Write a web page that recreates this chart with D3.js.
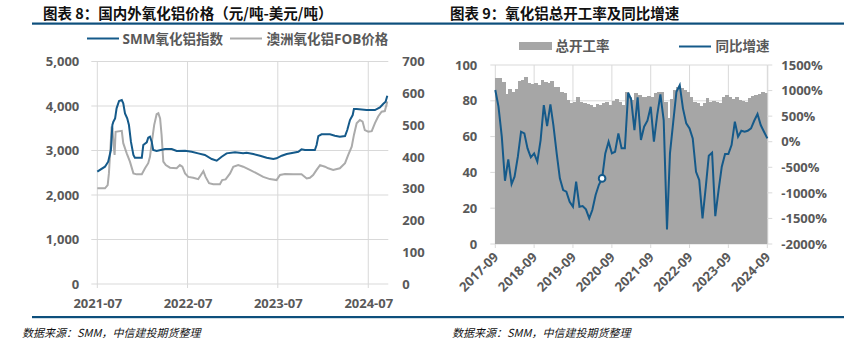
<!DOCTYPE html>
<html>
<head>
<meta charset="utf-8">
<script src="https://cdn.jsdelivr.net/npm/d3@7"></script>
<style>
  body { margin: 0; background: #fff; }
  svg text { font-family: "Open Sans", "Noto Sans CJK SC", sans-serif; }
</style>
</head>
<body>
<svg id="chart" width="854" height="349"></svg>
<script>
// ---------- Chart 8: domestic vs. Australian alumina price ----------
const smmDates = ["2021-07-01","2021-08-01","2021-08-14","2021-08-25","2021-08-31","2021-09-04","2021-09-11","2021-09-17","2021-09-27","2021-10-08","2021-10-14","2021-10-21","2021-10-30","2021-11-06","2021-11-14","2021-11-24","2021-11-30","2021-12-28","2022-01-03","2022-01-17","2022-01-23","2022-01-30","2022-02-06","2022-02-12","2022-02-26","2022-04-01","2022-04-28","2022-05-18","2022-06-21","2022-07-18","2022-08-13","2022-09-09","2022-10-07","2022-10-27","2022-11-16","2022-12-06","2023-01-09","2023-02-11","2023-02-25","2023-03-24","2023-04-20","2023-05-17","2023-06-13","2023-06-26","2023-07-17","2023-08-06","2023-09-02","2023-09-22","2023-10-05","2023-10-19","2023-11-28","2023-12-05","2023-12-12","2023-12-25","2024-01-28","2024-02-17","2024-03-08","2024-03-29","2024-04-07","2024-04-18","2024-04-29","2024-05-04","2024-05-15","2024-06-24","2024-07-28","2024-08-17","2024-08-30","2024-09-09","2024-09-16"];
const smmValues = [2524,2636,2748,3011,3573,3647,3722,3947,4112,4134,4060,3835,3722,3572,3198,2899,2838,2838,3123,3184,3288,3310,3198,3011,2989,3033,3033,2989,2996,2973,2936,2899,2809,2771,2860,2936,2959,2936,2950,2921,2883,2838,2809,2824,2883,2921,2950,2973,3026,3011,3011,3123,3325,3363,3363,3333,3310,3325,3460,3685,3797,3932,3932,3910,3910,3970,4045,4096,4231];

const fobDates = ["2021-07-01","2021-08-01","2021-08-12","2021-08-17","2021-08-25","2021-08-28","2021-08-31","2021-09-05","2021-09-09","2021-09-13","2021-10-08","2021-10-14","2021-10-28","2021-11-10","2021-11-24","2021-12-07","2021-12-28","2022-01-10","2022-01-23","2022-01-30","2022-02-06","2022-02-16","2022-02-26","2022-03-05","2022-03-12","2022-03-18","2022-03-25","2022-04-04","2022-04-21","2022-05-18","2022-05-31","2022-06-10","2022-06-21","2022-07-04","2022-07-24","2022-08-13","2022-08-24","2022-09-03","2022-09-12","2022-09-26","2022-10-13","2022-11-09","2022-11-18","2022-12-02","2022-12-20","2023-01-02","2023-01-22","2023-02-11","2023-03-10","2023-04-07","2023-05-03","2023-05-30","2023-06-26","2023-07-10","2023-07-30","2023-09-02","2023-10-05","2023-10-26","2023-11-08","2023-11-21","2023-12-05","2023-12-19","2024-01-08","2024-01-21","2024-02-10","2024-03-08","2024-03-29","2024-04-11","2024-04-25","2024-05-04","2024-05-15","2024-05-28","2024-06-08","2024-06-17","2024-07-01","2024-07-15","2024-07-28","2024-08-10","2024-08-24","2024-09-06","2024-09-16"];
const fobValues = [301,301,311,348,453,495,490,437,406,479,482,443,411,385,348,345,345,364,380,400,443,500,534,537,521,469,385,374,366,364,374,369,348,337,334,330,343,355,337,317,314,314,327,329,348,369,374,369,359,348,337,330,327,343,346,345,345,332,334,343,359,374,369,364,359,364,380,406,432,469,506,516,511,484,479,481,506,527,542,544,574];

const priceTicks = [0, 1000, 2000, 3000, 4000, 5000];
const fobTicks = [0, 100, 200, 300, 400, 500, 600, 700];
const priceDateTicks = ["2021-07", "2022-07", "2023-07", "2024-07"];

// ---------- Chart 9: alumina operating rate and YoY change ----------
const rateStartMonth = "2017-09";
const operatingRate = [93,92.5,90.7,84,86.6,85,86.4,91,91.6,93.5,89.8,89.4,
  90,88.8,91.6,90.7,89.8,91,87.9,87.5,84.7,84.2,80.4,78.6,
  79.5,82,79.5,78.6,78.2,77.7,76.4,78.2,77.8,79,79.1,77.7,
  80,80.8,79.5,77.7,85,82,80.4,84.2,83,82,82.3,82.9,
  82,84.2,84.7,84.7,79.5,70.2,80.8,86,87.5,87,86,85,
  82,79.5,78.6,77,79,81.4,79.5,80,79.5,79,82.3,83.2,
  82.3,80.8,82,80.4,80,79.5,81.4,82.7,83.2,83.8,84.9,84.2];
const yoyGrowth = [1010,685,100,-763,-345,-828,-685,-293,196,163,-130,-306,
  -228,-391,33,717,306,730,326,-228,-717,-945,-978,-1173,
  -1271,-782,-1271,-1258,-1323,-1499,-1336,-1043,-847,-717,-228,0,
  -228,-196,163,-130,-130,958,828,228,867,33,293,410,
  684,0,521,926,424,-1715,-228,391,978,1108,652,358,
  261,65,-587,-750,-1499,-880,-274,-215,-1454,-945,-489,-241,
  -241,-65,391,98,215,196,215,261,410,541,326,196,65];
const highlightMonth = "2020-06";
const rateTicks = [0, 20, 40, 60, 80, 100];
const yoyTicks = [-2000, -1500, -1000, -500, 0, 500, 1000, 1500];
const rateDateTicks = ["2017-09","2018-09","2019-09","2020-09","2021-09","2022-09","2023-09","2024-09"];

const BLUE = "#155a8a";
const RULE = "#0d4f7c";
const GREY_LINE = "#ababab";
const BAR = "#a6a6a6";
const GRID = "#d9d9d9";
const LABEL = "#595959";
const CJK = '"Noto Sans CJK SC", sans-serif';

const parseDay = d3.timeParse("%Y-%m-%d");
const parseMonth = d3.timeParse("%Y-%m");
const svg = d3.select("#chart");

// header and footer rules
svg.append("rect").attr("x", 32).attr("y", 22.5).attr("width", 812).attr("height", 2.2).attr("fill", RULE);
svg.append("rect").attr("x", 32).attr("y", 316).attr("width", 812).attr("height", 2.2).attr("fill", RULE);

function title(x, text) {
  svg.append("text").attr("x", x).attr("y", 19).text(text)
    .style("font-family", CJK).style("font-size", "14.5px").style("font-weight", 700).attr("fill", "#111");
}
title(43, "图表 8：国内外氧化铝价格（元/吨-美元/吨）");
title(450, "图表 9：氧化铝总开工率及同比增速");

function source(x) {
  svg.append("text").attr("x", x).attr("y", 337).text("数据来源：SMM，中信建投期货整理")
    .style("font-family", CJK).style("font-size", "11px").style("font-style", "italic").attr("fill", "#111");
}
source(22);
source(452);

// ===== left chart =====
{
  const L = 97.3, R = 388.3, T = 61.5, B = 284;
  const x = d3.scaleTime().domain([parseDay("2021-07-01"), parseDay("2024-09-20")]).range([L, R]);
  const y = d3.scaleLinear().domain([0, 5000]).range([B, T]);
  const y2 = d3.scaleLinear().domain([0, 700]).range([B, T]);
  const g = svg.append("g");

  g.selectAll(".hg").data(priceTicks).join("line")
    .attr("x1", L - 6).attr("x2", R).attr("y1", d => y(d)).attr("y2", d => y(d))
    .attr("stroke", GRID).attr("stroke-width", 1);
  g.selectAll(".vg").data(priceDateTicks).join("line")
    .attr("x1", d => x(parseMonth(d))).attr("x2", d => x(parseMonth(d)))
    .attr("y1", T).attr("y2", B + 4)
    .attr("stroke", GRID).attr("stroke-width", 1);

  const axL = g.append("g").attr("transform", `translate(${L},0)`)
    .call(d3.axisLeft(y).tickValues(priceTicks).tickSize(0).tickPadding(18).tickFormat(d3.format(",")));
  const axR = g.append("g").attr("transform", `translate(${R},0)`)
    .call(d3.axisRight(y2).tickValues(fobTicks).tickSize(0).tickPadding(14));
  const axB = g.append("g").attr("transform", `translate(0,${B})`)
    .call(d3.axisBottom(x).tickValues(priceDateTicks.map(parseMonth)).tickSize(0).tickPadding(15).tickFormat(d3.timeFormat("%Y-%m")));
  [axL, axR, axB].forEach(a => {
    a.select(".domain").remove();
    a.selectAll("text").attr("fill", LABEL).style("font-size", "13px").style("font-weight", 700);
  });

  const fob = fobDates.map((d, i) => [parseDay(d), fobValues[i]]);
  const smm = smmDates.map((d, i) => [parseDay(d), smmValues[i]]);
  g.append("path").datum(fob)
    .attr("d", d3.line().x(d => x(d[0])).y(d => y2(d[1])))
    .attr("fill", "none").attr("stroke", GREY_LINE).attr("stroke-width", 2);
  g.append("path").datum(smm)
    .attr("d", d3.line().x(d => x(d[0])).y(d => y(d[1])))
    .attr("fill", "none").attr("stroke", BLUE).attr("stroke-width", 2);

  // legend
  const lg = g.append("g").style("font-family", CJK).style("font-size", "13.5px").style("font-weight", 700);
  lg.append("line").attr("x1", 87).attr("x2", 119).attr("y1", 38.5).attr("y2", 38.5).attr("stroke", BLUE).attr("stroke-width", 2);
  lg.append("text").attr("x", 122.5).attr("y", 43.5).attr("fill", LABEL).text("SMM氧化铝指数");
  lg.append("line").attr("x1", 230).attr("x2", 262).attr("y1", 38.5).attr("y2", 38.5).attr("stroke", GREY_LINE).attr("stroke-width", 2);
  lg.append("text").attr("x", 266.5).attr("y", 43.5).attr("fill", LABEL).text("澳洲氧化铝FOB价格");
}

// ===== right chart =====
{
  const L = 495.3, R = 767.3, T = 65, B = 244;
  const start = parseMonth(rateStartMonth);
  const x = d3.scaleTime().domain([start, d3.timeMonth.offset(start, 84)]).range([L, R]);
  const y = d3.scaleLinear().domain([0, 100]).range([B, T]);
  const y2 = d3.scaleLinear().domain([-2000, 1500]).range([B, T]);
  const g = svg.append("g");

  g.selectAll(".hg").data(rateTicks).join("line")
    .attr("x1", L - 5).attr("x2", R).attr("y1", d => y(d)).attr("y2", d => y(d))
    .attr("stroke", GRID).attr("stroke-width", 1);
  g.selectAll(".vg").data(rateDateTicks).join("line")
    .attr("x1", d => x(parseMonth(d))).attr("x2", d => x(parseMonth(d)))
    .attr("y1", T).attr("y2", B + 4)
    .attr("stroke", GRID).attr("stroke-width", 1);

  // operating-rate columns sit edge to edge, one per month
  const bars = operatingRate.map((v, i) => ({ m: d3.timeMonth.offset(start, i), v }));
  g.append("g").attr("shape-rendering", "crispEdges")
    .selectAll("rect").data(bars).join("rect")
    .attr("x", d => x(d.m))
    .attr("width", d => x(d3.timeMonth.offset(d.m, 1)) - x(d.m) + 0.6)
    .attr("y", d => y(d.v))
    .attr("height", d => y(0) - y(d.v))
    .attr("fill", BAR);

  // right axis line with ticks
  g.append("line").attr("x1", R + 0.5).attr("x2", R + 0.5).attr("y1", T).attr("y2", B)
    .attr("stroke", GRID).attr("stroke-width", 1);
  g.selectAll(".rt").data(yoyTicks).join("line")
    .attr("x1", R).attr("x2", R + 5).attr("y1", d => y2(d)).attr("y2", d => y2(d))
    .attr("stroke", GRID).attr("stroke-width", 1);

  const axL = g.append("g").attr("transform", `translate(${L},0)`)
    .call(d3.axisLeft(y).tickValues(rateTicks).tickSize(0).tickPadding(18));
  const axR = g.append("g").attr("transform", `translate(${R},0)`)
    .call(d3.axisRight(y2).tickValues(yoyTicks).tickSize(0).tickPadding(14).tickFormat(d => d + "%"));
  [axL, axR].forEach(a => {
    a.select(".domain").remove();
    a.selectAll("text").attr("fill", LABEL).style("font-size", "13px").style("font-weight", 700);
  });

  g.selectAll(".xl").data(rateDateTicks).join("text")
    .attr("transform", d => `translate(${x(parseMonth(d)) + 4},${B + 14}) rotate(-45)`)
    .attr("text-anchor", "end")
    .attr("fill", LABEL).style("font-size", "13px").style("font-weight", 700)
    .text(d => d);

  const yoy = yoyGrowth.map((v, i) => ({ m: d3.timeMonth.offset(start, i), v }));
  g.append("path").datum(yoy)
    .attr("d", d3.line().x(d => x(d.m)).y(d => y2(d.v)))
    .attr("fill", "none").attr("stroke", BLUE).attr("stroke-width", 2);

  const hi = yoy.find(d => d3.timeFormat("%Y-%m")(d.m) === highlightMonth);
  g.append("circle").attr("cx", x(hi.m)).attr("cy", y2(hi.v)).attr("r", 3.3)
    .attr("fill", "#fff").attr("stroke", BLUE).attr("stroke-width", 2);

  // legend
  const lg = g.append("g").style("font-family", CJK).style("font-size", "13.5px").style("font-weight", 700);
  lg.append("rect").attr("x", 519).attr("y", 42).attr("width", 33).attr("height", 8).attr("fill", BAR);
  lg.append("text").attr("x", 555.5).attr("y", 51).attr("fill", LABEL).text("总开工率");
  lg.append("line").attr("x1", 679).attr("x2", 711).attr("y1", 46.5).attr("y2", 46.5).attr("stroke", BLUE).attr("stroke-width", 2);
  lg.append("text").attr("x", 715.5).attr("y", 51).attr("fill", LABEL).text("同比增速");
}
</script>
</body>
</html>
